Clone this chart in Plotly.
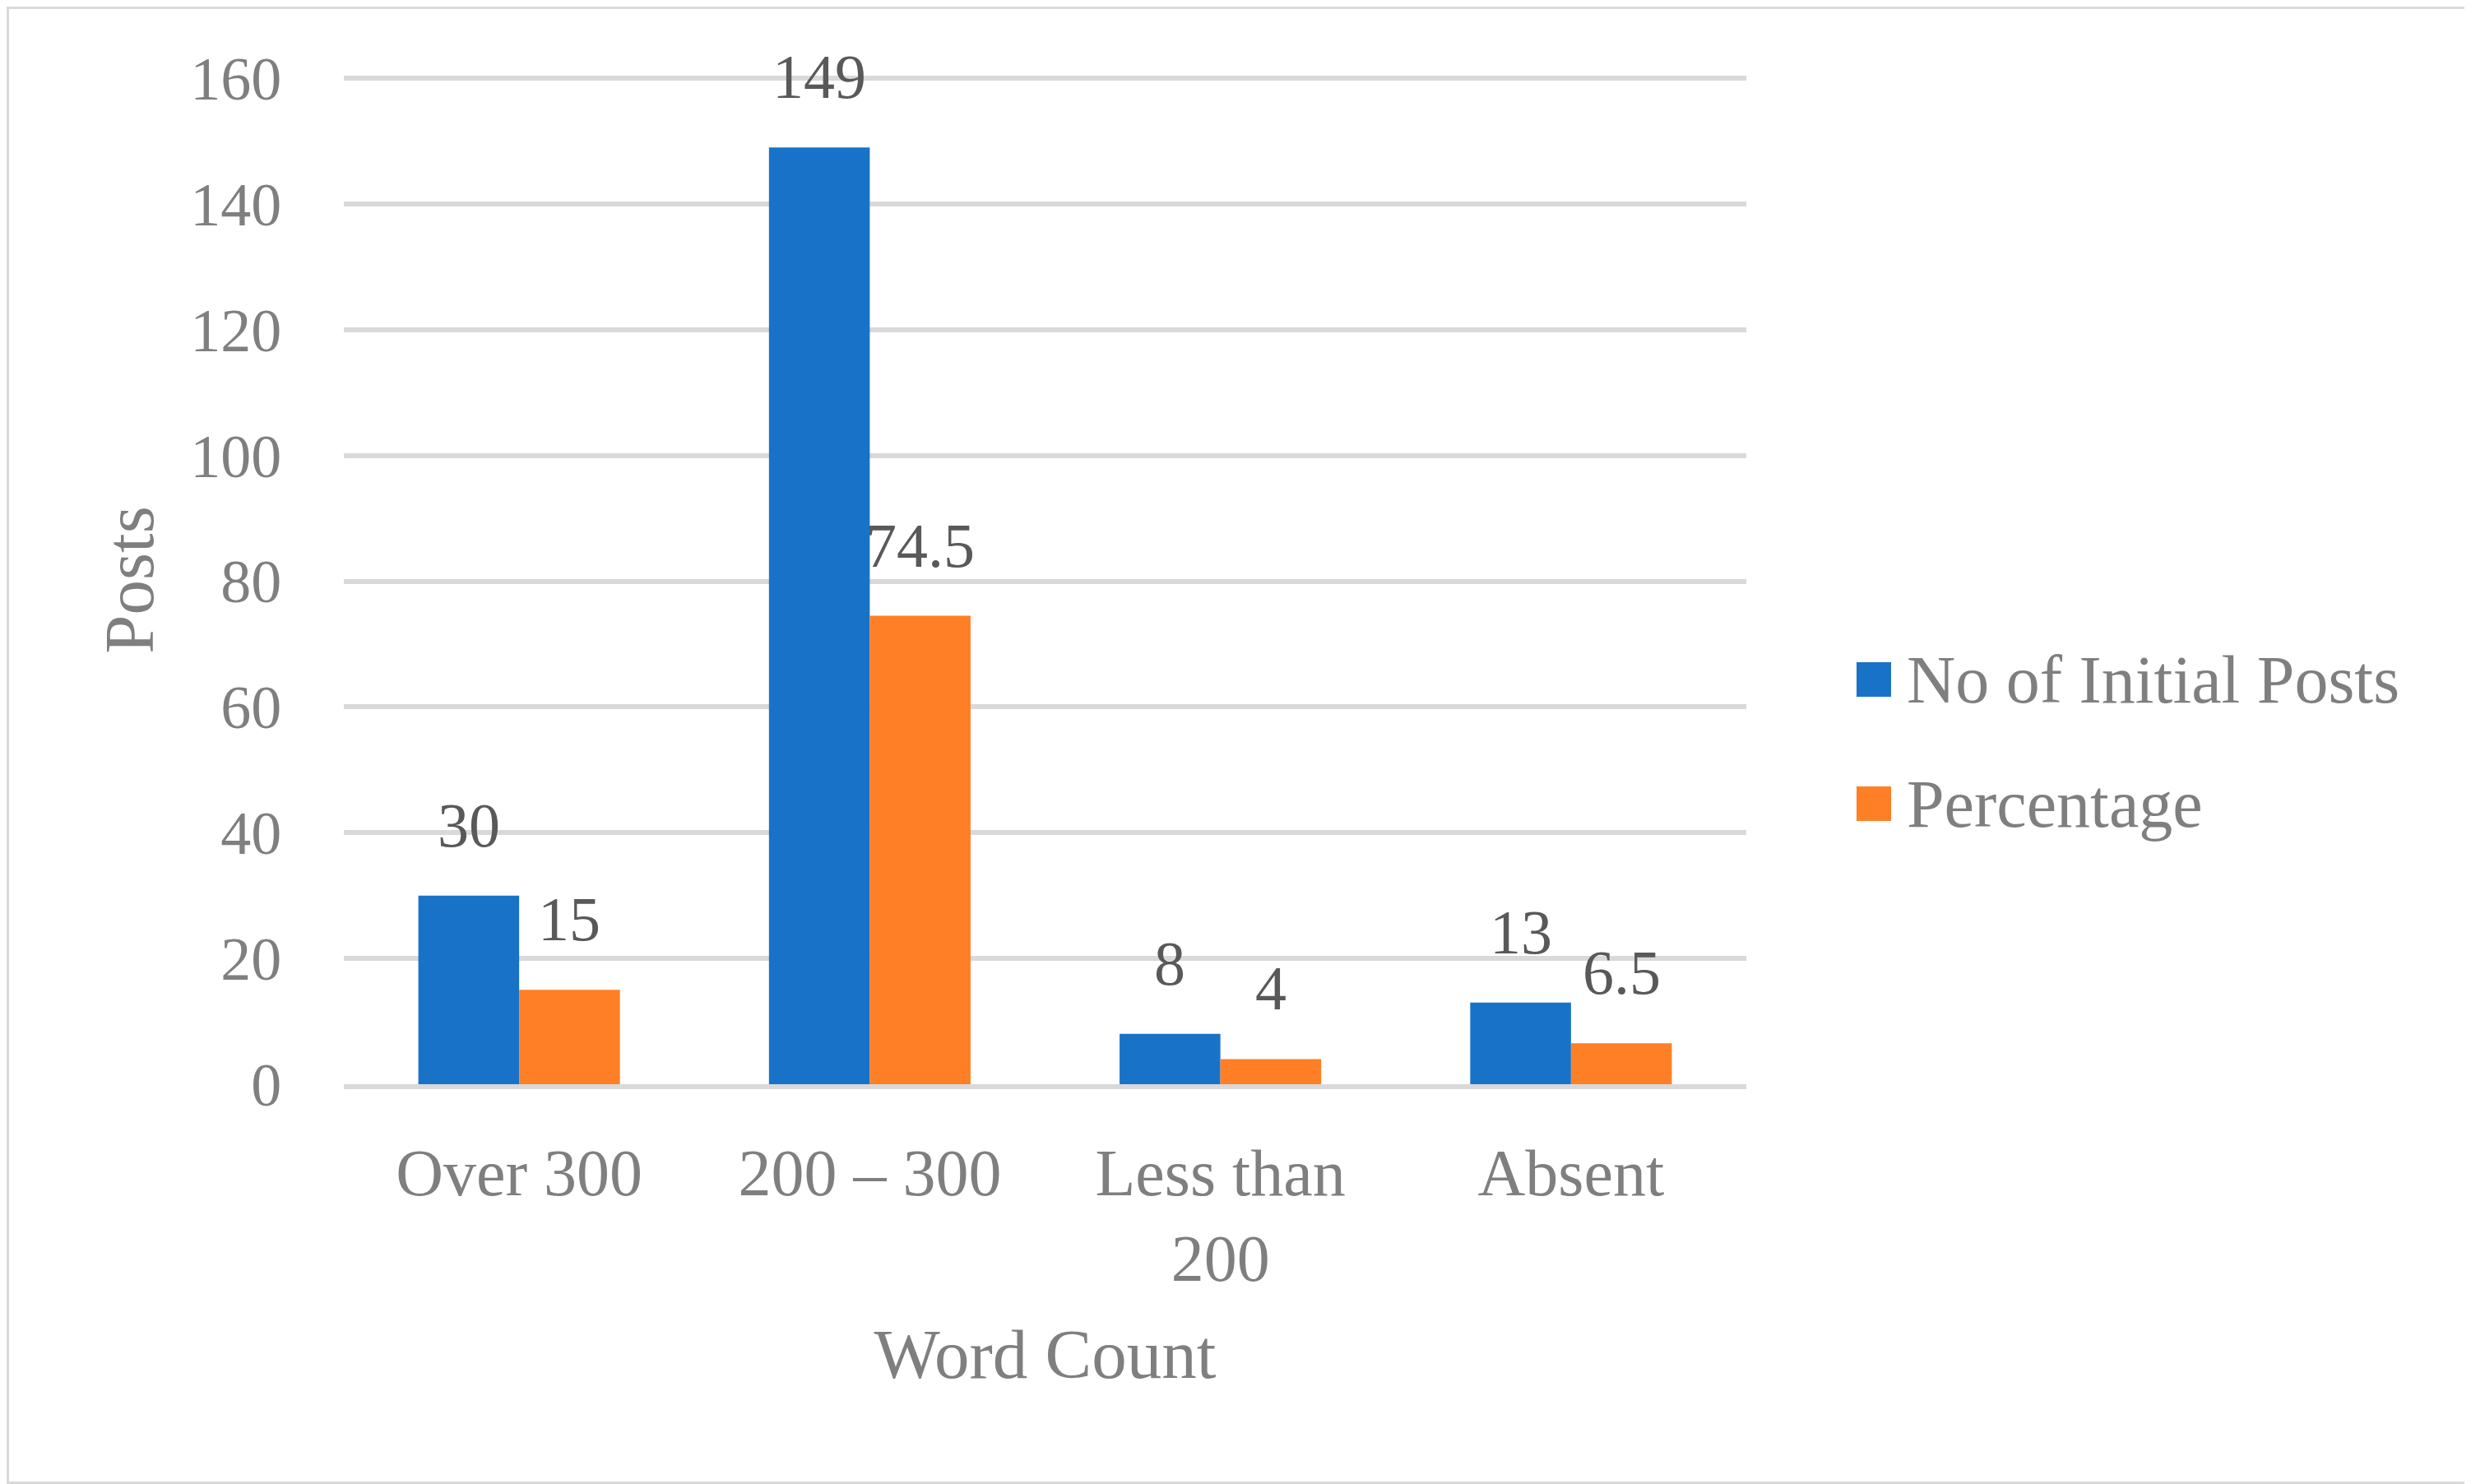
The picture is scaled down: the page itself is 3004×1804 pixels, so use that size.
import plotly.graph_objects as go

categories = ["Over 300", "200 – 300", "Less than<br>200", "Absent"]
series_names = ["No of Initial Posts", "Percentage"]
initial_posts = [30, 149, 8, 13]
percentage = [15, 74.5, 4, 6.5]
y_ticks = [0, 20, 40, 60, 80, 100, 120, 140, 160]
colors = ["#1873C8", "#FF7F27"]

OFF = 8  # default page body margin
W, H = 3004 - OFF, 1804 - OFF
ML, MT = 418 - OFF, 92 - OFF
MR, MB = 3004 - 2123, 1804 - 1318
FONT = "Liberation Serif"
YTICK_SIZE = 74
XTICK_SIZE = 80
LABEL_SIZE = 76
TITLE_SIZE = 85
LEGEND_SIZE = 82
GRAY = "#7F7F7F"
LABEL_GRAY = "#595959"

fig = go.Figure()
for name, vals, col in zip(series_names, [initial_posts, percentage], colors):
    fig.add_trace(go.Bar(x=categories, y=vals, name=name, marker_color=col,
                         marker_line_width=0, showlegend=False))

# data labels (annotations so the gap above the bar matches)
pw = W - ML - MR
ph = H - MT - MB
cat_w = pw / len(categories)
bargap = 0.425
bar_w = cat_w * (1 - bargap) / 2
for i, vals in enumerate([initial_posts, percentage]):
    shift = (-0.5 if i == 0 else 0.5) * bar_w
    for c, v in zip(categories, vals):
        fig.add_annotation(x=c, y=v, text=f"{v:g}", showarrow=False,
                           xref="x", yref="y", yanchor="bottom", xanchor="center",
                           xshift=shift, yshift=42,
                           font=dict(family=FONT, size=LABEL_SIZE, color=LABEL_GRAY))

# manual legend (large square swatches as in reference)
def px2paper_x(px):
    return (px - OFF - ML) / pw
def px2paper_y(py):
    return 1 - (py - OFF - MT) / ph
leg_rows = [826, 977]
for name, col, ry in zip(series_names, colors, leg_rows):
    fig.add_shape(type="rect", xref="paper", yref="paper",
                  x0=px2paper_x(2257), x1=px2paper_x(2299),
                  y0=px2paper_y(ry + 21), y1=px2paper_y(ry - 21),
                  fillcolor=col, line_width=0)
    fig.add_annotation(xref="paper", yref="paper", x=px2paper_x(2316), y=px2paper_y(ry),
                       text=name, showarrow=False, xanchor="left", yanchor="middle",
                       font=dict(family=FONT, size=LEGEND_SIZE, color=GRAY))

# chart border
fig.add_shape(type="rect", xref="paper", yref="paper",
              x0=px2paper_x(OFF + 1.5), x1=px2paper_x(3004 - 1.5),
              y0=px2paper_y(1804 - 1.5), y1=px2paper_y(OFF + 1.5),
              line=dict(color="#D9D9D9", width=3), fillcolor="rgba(0,0,0,0)", layer="below")

fig.update_layout(
    width=W, height=H,
    margin=dict(l=ML, r=MR, t=MT, b=MB, autoexpand=False),
    paper_bgcolor="white", plot_bgcolor="white",
    barmode="group", bargap=bargap, bargroupgap=0,
    font=dict(family=FONT, size=YTICK_SIZE, color=GRAY),
    showlegend=False,
    xaxis=dict(
        title=dict(text="Word Count", font=dict(family=FONT, size=TITLE_SIZE, color=GRAY), standoff=44),
        showgrid=False, showline=True, linecolor="#D9D9D9", linewidth=6,
        ticks="outside", ticklen=33, tickcolor="rgba(0,0,0,0)",
        tickfont=dict(family=FONT, size=XTICK_SIZE, color=GRAY),
        automargin=False,
    ),
    yaxis=dict(
        title=dict(text="Posts", font=dict(family=FONT, size=TITLE_SIZE, color=GRAY), standoff=16),
        range=[0, 160.4], tickvals=y_ticks,
        showgrid=True, gridcolor="#D9D9D9", gridwidth=6,
        zeroline=False, showline=False,
        ticks="outside", ticklen=60, tickcolor="rgba(0,0,0,0)",
        tickfont=dict(family=FONT, size=YTICK_SIZE, color=GRAY),
        automargin=False,
    ),
)

fig.write_html("out.html")
